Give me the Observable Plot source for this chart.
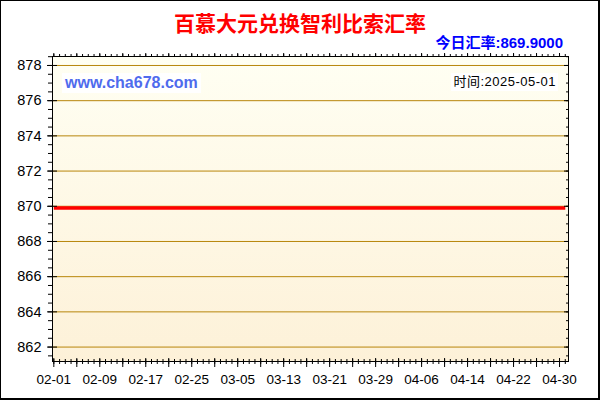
<!DOCTYPE html>
<html>
<head>
<meta charset="utf-8">
<script src="https://cdn.jsdelivr.net/npm/d3@7"></script>
<script src="https://cdn.jsdelivr.net/npm/@observablehq/plot@0.6"></script>
<style>
  html, body { margin: 0; padding: 0; background: #fff; }
  #wrap { position: relative; width: 600px; height: 400px; overflow: hidden; background: #fff; }
  #border { position: absolute; left: 0; top: 0; width: 600px; height: 400px; box-sizing: border-box;
            border-style: solid; border-color: #000; border-width: 1px 2px 2px 1px; pointer-events: none; }
  #header { position: relative; height: 50px; }
  #title { position: absolute; left: 0; top: 12px; width: 600px; text-align: center;
           font: bold 21px/21px "Noto Sans CJK SC", sans-serif; color: #ff0000; }
  #subtitle { position: absolute; right: 37px; top: 35px; white-space: nowrap;
              font: bold 15px/16px "Liberation Sans", "Noto Sans CJK SC", sans-serif; color: #0000ff; }
  #watermark { position: absolute; left: 62px; top: 73px; height: 20px; padding: 0 3px; background: #fff;
               font: bold 16px/20px "Liberation Sans", Arial, sans-serif; color: #4f6bed; white-space: nowrap; }
  #time { position: absolute; right: 42px; top: 73px; height: 18px; padding: 0 2px; background: #fff;
          font: 13px/18px "Liberation Sans", "Noto Sans CJK SC", sans-serif; letter-spacing: 0.5px; color: #000; white-space: nowrap; }
  svg { display: block; }
</style>
</head>
<body>
<div id="wrap">
  <div id="header">
    <div id="title">百慕大元兑换智利比索汇率</div>
    <div id="subtitle">今日汇率:869.9000</div>
  </div>
  <div id="chart"></div>
  <div id="watermark">www.cha678.com</div>
  <div id="time">时间:2025-05-01</div>
  <div id="border"></div>
</div>
<script>
// ---- data ----
const dates = ["2025-02-01","2025-02-09","2025-02-17","2025-02-25","2025-03-05","2025-03-13",
               "2025-03-21","2025-03-29","2025-04-06","2025-04-14","2025-04-22","2025-04-30","2025-05-01"];
const rates = [869.9, 869.9, 869.9, 869.9, 869.9, 869.9, 869.9, 869.9, 869.9, 869.9, 869.9, 869.9, 869.9];
const xTickLabels = ["02-01","02-09","02-17","02-25","03-05","03-13","03-21","03-29","04-06","04-14","04-22","04-30"];
const yTickValues = [862, 864, 866, 868, 870, 872, 874, 876, 878];

const data = dates.map((d, i) => ({date: new Date(d + "T00:00:00Z"), rate: rates[i]}));

const labelDates = xTickLabels.map(l => new Date("2025-" + l + "T00:00:00Z"));
const dayTicks = d3.utcDay.range(new Date("2025-02-01T00:00:00Z"), new Date("2025-05-02T00:00:00Z"));
const majorXTicks = dayTicks.filter((d, i) => i % 4 === 0);
const yMinor = d3.range(861.5, 878.51, 0.5);

const fmt = d3.utcFormat("%m-%d");

const plot = Plot.plot({
  width: 600,
  height: 350,
  marginTop: 6,
  marginBottom: 39,
  marginLeft: 52,
  marginRight: 32,
  style: {fontFamily: "'Liberation Sans', Arial, sans-serif", fontSize: "13.5px", color: "#000", background: "transparent"},
  x: {type: "utc", domain: [new Date("2025-01-31T18:30:00Z"), new Date("2025-05-01T13:30:00Z")], label: null},
  y: {domain: [861.18, 878.51], label: null},
  marks: [
    Plot.frame({fill: "url(#bgGrad)", stroke: null}),
    Plot.ruleY(yTickValues, {stroke: "#b8860b", strokeWidth: 1}),
    Plot.lineY(data, {x: "date", y: "rate", stroke: "#ff0000", strokeWidth: 3.6, strokeLinecap: "butt"}),
    Plot.frame({stroke: "#000", strokeWidth: 1}),
    // left axis
    Plot.axisY({anchor: "left", ticks: yMinor, tickSize: 4, tickFormat: () => ""}),
    Plot.axisY({anchor: "left", ticks: yTickValues, tickSize: 10, dx: 5, tickFormat: () => ""}),
    Plot.axisY({anchor: "left", ticks: yTickValues, tickSize: 0, tickPadding: 11, fontSize: 14.5, tickFormat: d => String(d)}),
    // right axis (ticks inward)
    Plot.axisY({anchor: "right", ticks: yMinor, tickSize: 3, dx: -3, tickFormat: () => ""}),
    Plot.axisY({anchor: "right", ticks: yTickValues, tickSize: 5, dx: -5, tickFormat: () => ""}),
    // top axis
    Plot.axisX({anchor: "top", ticks: dayTicks, tickSize: 3, tickFormat: () => ""}),
    Plot.axisX({anchor: "top", ticks: majorXTicks, tickSize: 4, tickFormat: () => ""}),
    // bottom axis
    Plot.axisX({anchor: "bottom", ticks: dayTicks, tickSize: 5, dy: -2, tickFormat: () => ""}),
    Plot.axisX({anchor: "bottom", ticks: majorXTicks, tickSize: 9, dy: -3, tickFormat: () => ""}),
    Plot.axisX({anchor: "bottom", ticks: labelDates, tickSize: 0, tickPadding: 13, tickFormat: d => xTickLabels[labelDates.findIndex(t => +t === +d)] ?? fmt(d)})
  ]
});

d3.select(plot).insert("defs", ":first-child").html(
  '<linearGradient id="bgGrad" x1="0" y1="0" x2="0" y2="1">' +
  '<stop offset="0%" stop-color="#fffff3"/>' +
  '<stop offset="100%" stop-color="#fdf1d8"/>' +
  '</linearGradient>'
);

document.getElementById("chart").appendChild(plot);
</script>
</body>
</html>
